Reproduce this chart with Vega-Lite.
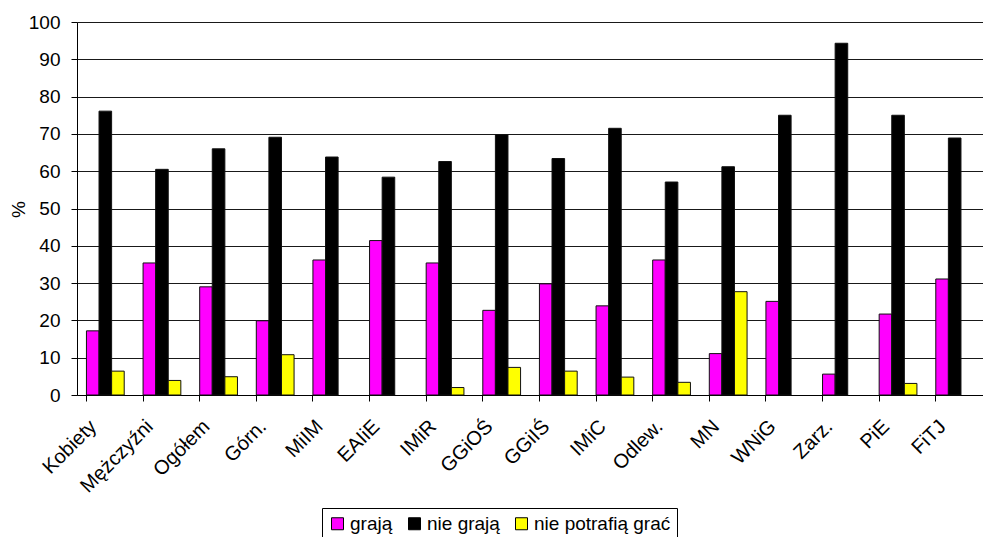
{
  "$schema": "https://vega.github.io/schema/vega-lite/v6.json",
  "width": 906,
  "height": 373,
  "autosize": {"type": "none"},
  "padding": {"left": 77, "top": 22, "right": 0, "bottom": 142},
  "background": "white",
  "config": {
    "font": "Liberation Sans",
    "view": {"stroke": null},
    "axis": {"labelFont": "Liberation Sans", "titleFont": "Liberation Sans"}
  },
  "data": {
    "values": [
      {"cat": "Kobiety", "series": "grają", "value": 17.2},
      {"cat": "Kobiety", "series": "nie grają", "value": 76.1},
      {"cat": "Kobiety", "series": "nie potrafią grać", "value": 6.4},
      {"cat": "Mężczyźni", "series": "grają", "value": 35.4},
      {"cat": "Mężczyźni", "series": "nie grają", "value": 60.5},
      {"cat": "Mężczyźni", "series": "nie potrafią grać", "value": 3.9},
      {"cat": "Ogółem", "series": "grają", "value": 29.0},
      {"cat": "Ogółem", "series": "nie grają", "value": 66.0},
      {"cat": "Ogółem", "series": "nie potrafią grać", "value": 4.9},
      {"cat": "Górn.", "series": "grają", "value": 19.9},
      {"cat": "Górn.", "series": "nie grają", "value": 69.1},
      {"cat": "Górn.", "series": "nie potrafią grać", "value": 10.8},
      {"cat": "MiIM", "series": "grają", "value": 36.2},
      {"cat": "MiIM", "series": "nie grają", "value": 63.8},
      {"cat": "EAIiE", "series": "grają", "value": 41.4},
      {"cat": "EAIiE", "series": "nie grają", "value": 58.4},
      {"cat": "IMiR", "series": "grają", "value": 35.4},
      {"cat": "IMiR", "series": "nie grają", "value": 62.6},
      {"cat": "IMiR", "series": "nie potrafią grać", "value": 2.0},
      {"cat": "GGiOŚ", "series": "grają", "value": 22.7},
      {"cat": "GGiOŚ", "series": "nie grają", "value": 69.8},
      {"cat": "GGiOŚ", "series": "nie potrafią grać", "value": 7.4},
      {"cat": "GGiIŚ", "series": "grają", "value": 29.8},
      {"cat": "GGiIŚ", "series": "nie grają", "value": 63.4},
      {"cat": "GGiIŚ", "series": "nie potrafią grać", "value": 6.4},
      {"cat": "IMiC", "series": "grają", "value": 23.9},
      {"cat": "IMiC", "series": "nie grają", "value": 71.5},
      {"cat": "IMiC", "series": "nie potrafią grać", "value": 4.8},
      {"cat": "Odlew.", "series": "grają", "value": 36.2},
      {"cat": "Odlew.", "series": "nie grają", "value": 57.1},
      {"cat": "Odlew.", "series": "nie potrafią grać", "value": 3.4},
      {"cat": "MN", "series": "grają", "value": 11.1},
      {"cat": "MN", "series": "nie grają", "value": 61.2},
      {"cat": "MN", "series": "nie potrafią grać", "value": 27.7},
      {"cat": "WNiG", "series": "grają", "value": 25.1},
      {"cat": "WNiG", "series": "nie grają", "value": 75.0},
      {"cat": "Zarz.", "series": "grają", "value": 5.6},
      {"cat": "Zarz.", "series": "nie grają", "value": 94.3},
      {"cat": "PiE", "series": "grają", "value": 21.7},
      {"cat": "PiE", "series": "nie grają", "value": 75.0},
      {"cat": "PiE", "series": "nie potrafią grać", "value": 3.1},
      {"cat": "FiTJ", "series": "grają", "value": 31.1},
      {"cat": "FiTJ", "series": "nie grają", "value": 68.9}
    ]
  },
  "mark": {"type": "bar", "stroke": "#111111", "strokeWidth": 1},
  "encoding": {
    "x": {
      "field": "cat",
      "type": "nominal",
      "sort": null,
      "scale": {"paddingInner": 0.333, "paddingOuter": 0.1667},
      "axis": {
        "title": null,
        "labelAngle": -45,
        "labelFontSize": 20,
        "labelColor": "#000000",
        "labelOffset": -19,
        "bandPosition": 0,
        "tickSize": 6,
        "tickColor": "#000000",
        "domainColor": "#000000",
        "labelPadding": 15,
        "grid": false
      }
    },
    "xOffset": {
      "field": "series",
      "type": "nominal",
      "scale": {"domain": ["grają", "nie grają", "nie potrafią grać"]}
    },
    "y": {
      "field": "value",
      "type": "quantitative",
      "scale": {"domain": [0, 100], "nice": false},
      "axis": {
        "title": "%",
        "titleFontSize": 19,
        "titleFontWeight": "normal",
        "titleColor": "#000000",
        "titleX": -59,
        "titleY": 187,
        "titleAngle": -90,
        "titleBaseline": "middle",
        "titleAlign": "center",
        "values": [0, 10, 20, 30, 40, 50, 60, 70, 80, 90, 100],
        "labelFontSize": 19,
        "labelColor": "#000000",
        "labelPadding": 11,
        "tickSize": 6,
        "tickColor": "#000000",
        "domainColor": "#000000",
        "gridColor": "#000000",
        "gridOpacity": 0.9,
        "grid": true
      }
    },
    "color": {
      "field": "series",
      "type": "nominal",
      "scale": {
        "domain": ["grają", "nie grają", "nie potrafią grać"],
        "range": ["#FF00FF", "#000000", "#FFFF00"]
      },
      "legend": {
        "title": null,
        "orient": "none",
        "legendX": 245,
        "legendY": 486,
        "direction": "horizontal",
        "strokeColor": "#000000",
        "padding": 6,
        "labelFontSize": 19,
        "labelColor": "#000000",
        "symbolType": "square",
        "symbolSize": 144,
        "symbolStrokeColor": "#000000",
        "symbolStrokeWidth": 1,
        "symbolOpacity": 1,
        "columnPadding": 12,
        "labelOffset": 3
      }
    }
  }
}
